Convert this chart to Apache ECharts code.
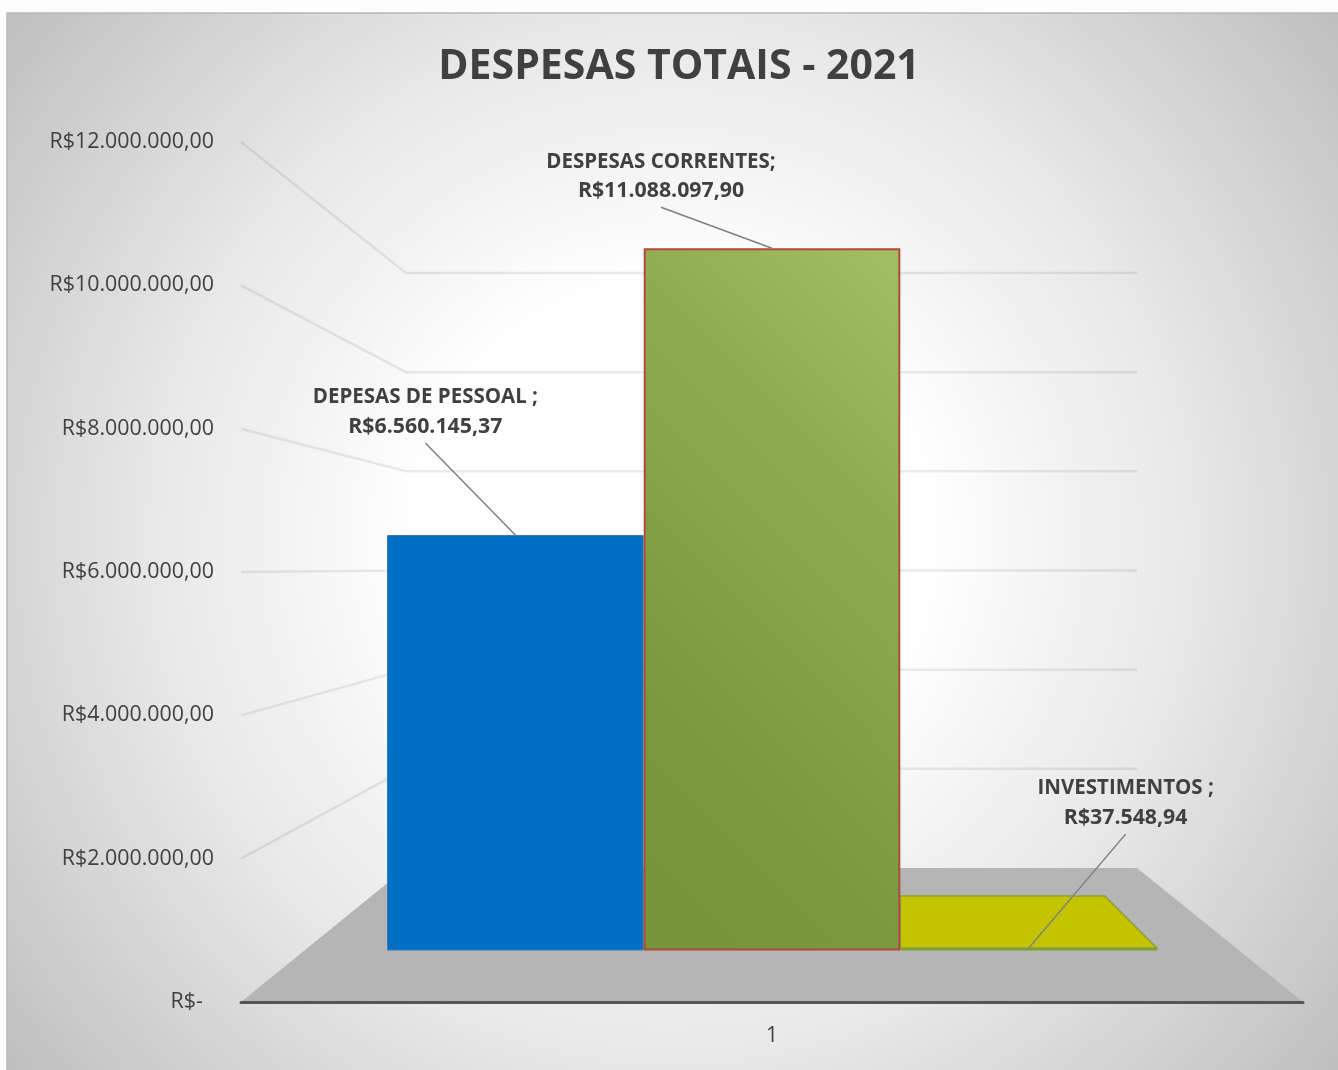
<!DOCTYPE html>
<html>
<head>
<meta charset="utf-8">
<style>html,body{margin:0;padding:0;background:#fdfdfd}#c{width:1338px;height:1070px}#c canvas{filter:blur(0.4px)}</style>
<script src="https://cdn.jsdelivr.net/npm/echarts@6/dist/echarts.min.js"></script>
</head>
<body>
<div id="c"></div>
<script>
const titleText = 'DESPESAS TOTAIS - 2021';
const categories = ['DEPESAS DE PESSOAL ;', 'DESPESAS CORRENTES;', 'INVESTIMENTOS ;'];
const values = [6560145.37, 11088097.90, 37548.94];
const yTicks = [0, 2000000, 4000000, 6000000, 8000000, 10000000, 12000000];
const yTickLabels = ['R$-  ', 'R$2.000.000,00', 'R$4.000.000,00', 'R$6.000.000,00', 'R$8.000.000,00', 'R$10.000.000,00', 'R$12.000.000,00'];
const xLabels = ['', '1', ''];

const FONT = '"Open Sans", "Noto Sans", sans-serif';
const TEXT = '#404040';
const labelShift = [[-90, -89], [-111, -38], [97, -111]];
const leaderEnd = [[-90, -92], [-111, -41], [97, -114]];
const topDepth = [0, 0, 52];

function brl(v) {
  const [i, d] = v.toFixed(2).split('.');
  return 'R$' + i.replace(/\B(?=(\d{3})+$)/g, '.') + ',' + d;
}
const barStyles = [
  { color: '#0070c4', borderColor: '#3b78b4', borderWidth: 1 },
  { color: { type: 'linear', x: 1, y: 0, x2: -0.95, y2: 0.71, colorStops: [
      { offset: 0, color: '#a2bf63' }, { offset: 0.3, color: '#8fab50' },
      { offset: 0.7, color: '#7c983f' }, { offset: 1, color: '#77933a' }] },
    borderColor: '#b04a40', borderWidth: 2 },
  { color: '#c3c300', borderColor: '#7f9f38', borderWidth: 1.5 }
];

const chart = echarts.init(document.getElementById('c'), null, { renderer: 'canvas' });

function frontPt(i, v) { return chart.convertToPixel({ gridIndex: 0 }, [i, v]); }

const option = {
  animation: false,
  backgroundColor: 'transparent',
  tooltip: { show: false },
  graphic: [{
    type: 'rect', z: -10, silent: true,
    shape: { x: 7, y: 13, width: 1340, height: 1070 },
    style: {
      fill: { type: 'radial', x: 672, y: 540, r: 850, global: true, colorStops: [
        { offset: 0, color: '#ffffff' }, { offset: 0.3, color: '#ffffff' },
        { offset: 0.51, color: '#efefef' }, { offset: 0.61, color: '#e8e8e8' },
        { offset: 0.79, color: '#d5d5d5' }, { offset: 1, color: '#bfbfbf' }] },
      stroke: '#b8b8b8', lineWidth: 1.5
    }
  }],
  title: {
    text: titleText, left: 674, top: 42, textAlign: 'center',
    textStyle: { fontFamily: FONT, fontSize: 41, fontWeight: 'bold', color: TEXT }
  },
  grid: [
    { left: 241, top: 142, width: 1062, height: 860, containLabel: false },
    { left: 387, top: 190.5, width: 770, height: 760, containLabel: false },
    { left: 406, top: 273, width: 731, height: 595, containLabel: false }
  ],
  xAxis: [
    { gridIndex: 0, type: 'category', data: xLabels, boundaryGap: false, z: 6,
      axisLine: { show: true, lineStyle: { color: '#555555', width: 3, cap: 'round' } },
      axisTick: { show: false },
      axisLabel: { margin: 24, interval: 0, fontFamily: FONT, fontSize: 21, color: TEXT } },
    { gridIndex: 1, type: 'category', data: categories, show: false, boundaryGap: true },
    { gridIndex: 2, type: 'value', min: 0, max: 1, show: false }
  ],
  yAxis: [
    { gridIndex: 0, type: 'value', min: 0, max: 12000000, interval: 2000000,
      axisLine: { show: false }, axisTick: { show: false }, splitLine: { show: false },
      axisLabel: { margin: 27, fontFamily: FONT, fontSize: 21.4, color: TEXT, padding: [2, 0, 0, 0],
        formatter: v => yTickLabels[yTicks.indexOf(v)] } },
    { gridIndex: 1, type: 'value', min: 0, max: 12000000, interval: 2000000, show: false },
    { gridIndex: 2, type: 'value', min: 0, max: 12000000, interval: 2000000, show: false }
  ],
  series: [
    { // walls: gridlines running from the front axis to the back wall
      type: 'custom', xAxisIndex: 2, yAxisIndex: 2, z: 1, silent: true,
      data: yTicks.slice(1).map(v => [0, v]),
      encode: { x: 0, y: 1 },
      renderItem(params, api) {
        const v = api.value(1);
        const f = frontPt(0, v), a = api.coord([0, v]), b = api.coord([1, v]);
        return { type: 'polyline', shape: { points: [f, a, b] },
          style: { fill: null, stroke: 'rgba(0,0,0,0.08)', lineWidth: 2.5 } };
      }
    },
    { // floor
      type: 'custom', xAxisIndex: 2, yAxisIndex: 2, z: 2, silent: true,
      data: [[0, 0]],
      encode: { x: 0, y: 1 },
      renderItem(params, api) {
        return { type: 'polygon', shape: { points: [
            frontPt(0, 0), frontPt(2, 0), api.coord([1, 0]), api.coord([0, 0])] },
          style: { fill: '#b5b5b5' } };
      }
    },
    { // visible top face of the very flat bar
      type: 'custom', xAxisIndex: 1, yAxisIndex: 1, z: 3, silent: true,
      data: [[2, values[2]]],
      encode: { x: 0, y: 1 },
      renderItem(params, api) {
        const c = api.coord([api.value(0), api.value(1)]);
        const w = api.size([1, 0])[0] / 2, d = topDepth[2];
        return { type: 'polygon', shape: { points: [
            [c[0] - w, c[1] - d], [c[0] + w - d, c[1] - d], [c[0] + w, c[1]], [c[0] - w, c[1]]] },
          style: { fill: '#c3c300', stroke: '#8da52e', lineWidth: 1.5 } };
      }
    },
    {
      type: 'bar', xAxisIndex: 1, yAxisIndex: 1, z: 4, silent: true,
      barWidth: '100%', barCategoryGap: 0,
      data: values.map((v, i) => ({
        value: v, itemStyle: barStyles[i],
        label: { offset: labelShift[i] }
      })),
      label: {
        show: true, position: 'top', distance: 5, align: 'center',
        fontFamily: FONT, fontWeight: 'bold', color: TEXT,
        formatter: p => '{n|' + p.name + '}\n{v|' + brl(p.value) + '}',
        rich: {
          n: { fontFamily: FONT, fontWeight: 'bold', color: TEXT, fontSize: 20.5, lineHeight: 29 },
          v: { fontFamily: FONT, fontWeight: 'bold', color: TEXT, fontSize: 21.3, lineHeight: 29 }
        }
      }
    },
    { // leader lines
      type: 'custom', xAxisIndex: 1, yAxisIndex: 1, z: 5, silent: true,
      data: values.map((v, i) => [i, v]),
      encode: { x: 0, y: 1 },
      renderItem(params, api) {
        const i = api.value(0);
        const c = api.coord([i, api.value(1)]);
        const e = leaderEnd[i];
        return { type: 'line', shape: { x1: c[0], y1: c[1], x2: c[0] + e[0], y2: c[1] + e[1] },
          style: { stroke: '#7f7f7f', lineWidth: 1.5 } };
      }
    }
  ]
};
chart.setOption(option);
</script>
</body>
</html>
